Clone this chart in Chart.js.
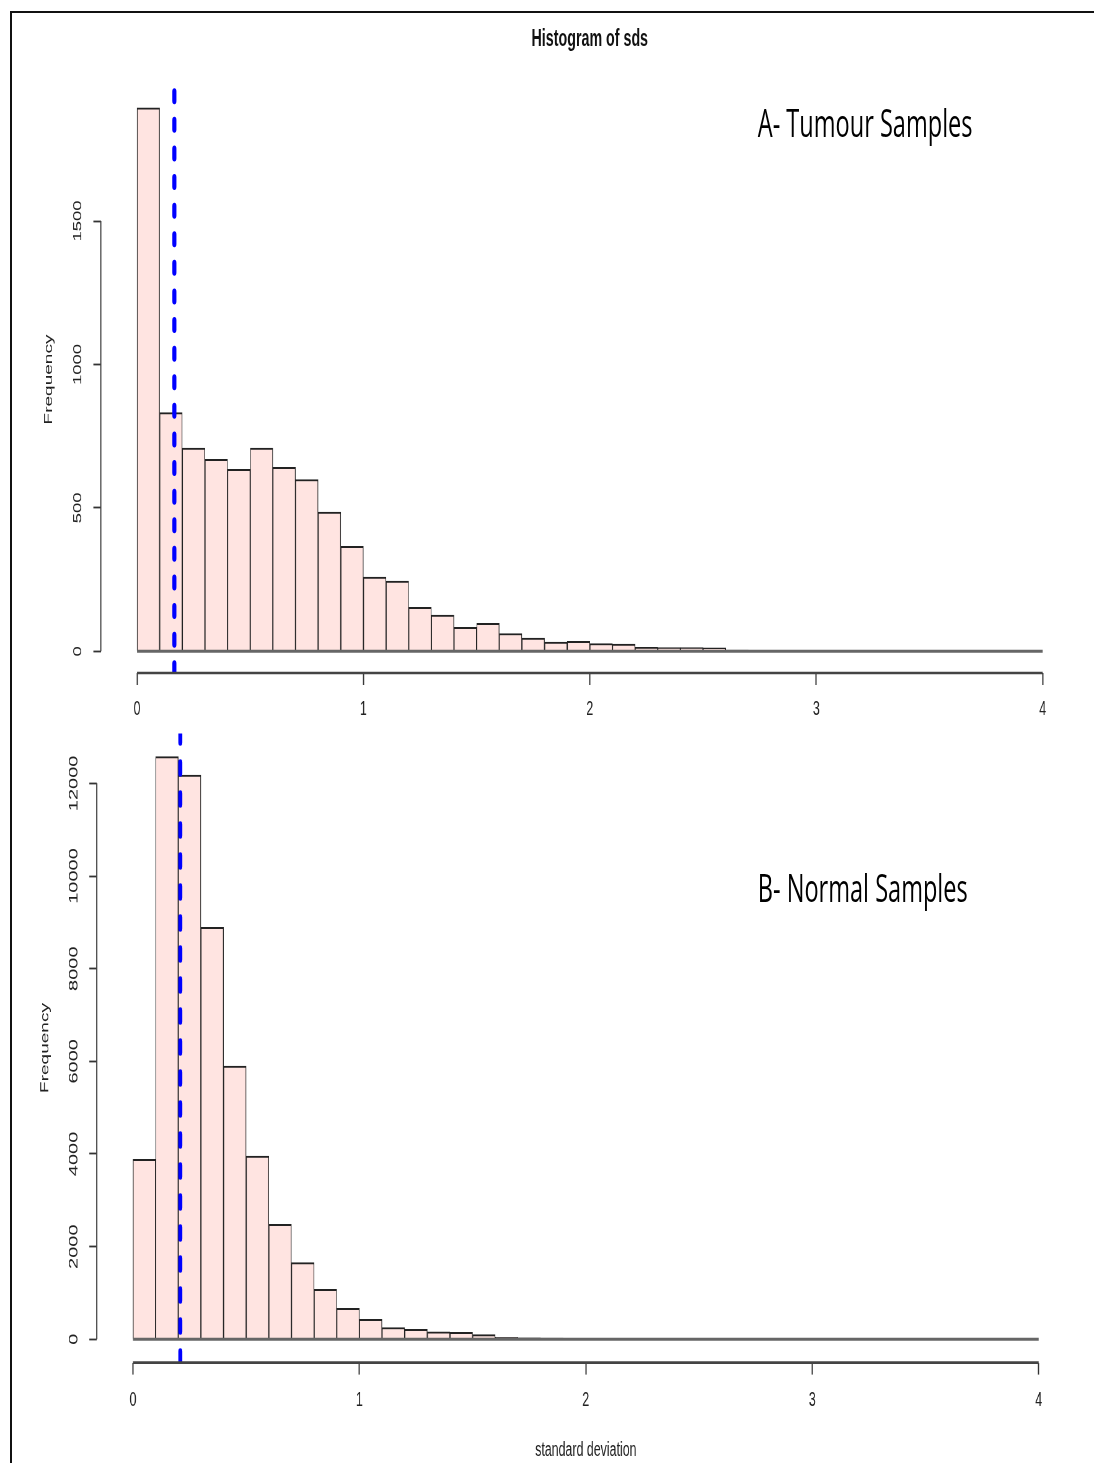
<!DOCTYPE html>
<html>
<head>
<meta charset="utf-8">
<script src="https://cdn.jsdelivr.net/npm/chart.js@4.4.1/dist/chart.umd.min.js"></script>
<style>
html,body{margin:0;padding:0;background:#fff;overflow:hidden;width:1094px;height:1463px;}
#frame{position:absolute;left:10px;top:11px;width:1090px;height:1460px;border-left:2px solid #111;border-top:2px solid #111;}
#wrap{position:absolute;left:0;top:0;width:1765px;height:1463px;transform:scaleX(0.6198);transform-origin:0 0;}
.box{position:absolute;left:0;width:1765px;}
#topBox{top:0;height:720px;}
#botBox{top:720px;height:743px;}
.note{position:absolute;font-family:'Open Sans',sans-serif;font-size:38px;line-height:38px;color:#000;white-space:nowrap;}
#title{position:absolute;left:451.6px;width:1000px;text-align:center;top:27px;font:bold 23px/23px 'Liberation Sans',Arial,sans-serif;color:#111;}
</style>
</head>
<body>
<div id="wrap">
  <div id="title">Histogram of sds</div>
  <div class="box" id="topBox"><canvas id="cTop"></canvas></div>
  <div class="box" id="botBox"><canvas id="cBot"></canvas></div>
  <div class="note" style="left:1222.6px;top:103px">A- Tumour Samples</div>
  <div class="note" style="left:1222.6px;top:868px">B- Normal Samples</div>
</div>
<div id="frame"></div>
<script>
// ---- data ----
const binWidth = 0.1;
const binStarts = [0.0,0.1,0.2,0.3,0.4,0.5,0.6,0.7,0.8,0.9,1.0,1.1,1.2,1.3,1.4,1.5,1.6,1.7,1.8,1.9,
                   2.0,2.1,2.2,2.3,2.4,2.5,2.6,2.7,2.8,2.9,3.0,3.1,3.2,3.3,3.4,3.5,3.6,3.7,3.8,3.9];
const tumourCounts = [1895,832,708,669,634,708,641,599,485,366,259,245,153,126,83,97,62,46,32,35,
                      27,25,14,13,13,12,4,3,3,0,0,0,0,0,0,0,0,0,0,0];
const normalCounts = [3885,12575,12180,8893,5899,3957,2482,1654,1079,669,432,255,215,160,150,100,40,30,25,0,
                      0,0,0,0,0,0,0,0,0,0,0,0,0,0,0,0,0,0,0,0];
const tumourCutoff = 0.165;
const normalCutoff = 0.209;
const xTicks = [0,1,2,3,4];
const tumourYTicks = [0,500,1000,1500];
const normalYTicks = [0,2000,4000,6000,8000,10000,12000];
const yLabel = 'Frequency';
const xLabel = 'standard deviation';

Chart.defaults.font.family = "'Liberation Sans', Arial, sans-serif";
Chart.defaults.color = '#222';

const rAxisLines = {
  id: 'rAxisLines',
  afterDatasetsDraw(chart) {
    const {ctx, chartArea, scales: {x, y}} = chart;
    ctx.save();
    ctx.strokeStyle = '#444';
    ctx.lineCap = 'butt';
    ctx.lineWidth = 2.6;
    ctx.beginPath();
    ctx.moveTo(x.getPixelForValue(x.ticks[0].value), chartArea.bottom);
    ctx.lineTo(x.getPixelForValue(x.ticks[x.ticks.length - 1].value), chartArea.bottom);
    ctx.stroke();
    ctx.lineWidth = 2.0;
    ctx.beginPath();
    ctx.moveTo(chartArea.left, y.getPixelForValue(y.ticks[0].value));
    ctx.lineTo(chartArea.left, y.getPixelForValue(y.ticks[y.ticks.length - 1].value));
    ctx.stroke();
    ctx.restore();
  }
};

function makeChart(canvas, counts, cutoff, yTicks, L) {
  const yTop = Math.max(...counts);
  const yMin = -0.04 * yTop, yMax = 1.04 * yTop;
  const xr = xTicks[xTicks.length - 1] - xTicks[0];
  const xMin = xTicks[0] - 0.04 * xr, xMax = xTicks[xTicks.length - 1] + 0.04 * xr;
  const last = binStarts.length - 1;
  return new Chart(canvas, {
    type: 'bar',
    data: {
      datasets: [
        {
          type: 'line',
          data: [{x: cutoff, y: yMin}, {x: cutoff, y: yMax}],
          borderColor: '#0000ff',
          borderWidth: 6.5,
          borderDash: L.dash,
          borderCapStyle: 'round',
          pointRadius: 0,
          fill: false,
          order: 0
        },
        {
          type: 'line',
          data: [{x: binStarts[0], y: 0}, {x: binStarts[last] + binWidth, y: 0}],
          borderColor: '#666',
          borderWidth: 3,
          pointRadius: 0,
          fill: false,
          order: 1
        },
        {
          type: 'bar',
          data: binStarts.map((b, i) => ({x: b + binWidth / 2, y: counts[i]})),
          backgroundColor: '#FFE4E1',
          borderColor: '#222',
          borderWidth: {top: 2.0, left: 1.3, right: 1.3, bottom: 0},
          borderSkipped: false,
          barPercentage: 1,
          categoryPercentage: 1,
          order: 2
        }
      ]
    },
    options: {
      responsive: true,
      maintainAspectRatio: false,
      animation: false,
      events: [],
      layout: {padding: {top: L.padTop, right: L.padRight, left: 0, bottom: 0}},
      plugins: {legend: {display: false}, tooltip: {enabled: false}, title: {display: false}},
      scales: {
        x: {
          type: 'linear',
          offset: false,
          min: xMin, max: xMax,
          afterBuildTicks: s => { s.ticks = xTicks.map(v => ({value: v})); },
          afterFit: s => { s.height = L.xHeight; },
          border: {display: false},
          grid: {display: true, offset: false, drawOnChartArea: false, drawTicks: true, tickLength: 12, tickColor: '#333', tickWidth: 2},
          ticks: {font: {size: 20}, color: '#222', padding: L.xPad, autoSkip: false, maxRotation: 0, minRotation: 0, callback: v => String(v)},
          title: {display: L.showXTitle, text: xLabel, font: {size: 20}, color: '#222', padding: {top: 0, bottom: 1}}
        },
        y: {
          type: 'linear',
          offset: false,
          min: yMin, max: yMax,
          afterBuildTicks: s => { s.ticks = yTicks.map(v => ({value: v})); },
          afterFit: s => { s.width = L.yWidth; },
          border: {display: false},
          grid: {display: true, offset: false, drawOnChartArea: false, drawTicks: true, tickLength: 12, tickColor: '#333', tickWidth: 1.8},
          ticks: {font: {size: L.yFont}, color: '#222', padding: L.yPad, autoSkip: false, minRotation: 90, maxRotation: 90, crossAlign: 'center', callback: v => String(v)},
          title: {display: true, text: yLabel, font: {size: 19}, color: '#222', padding: {top: L.yTitlePad, bottom: 0}}
        }
      }
    },
    plugins: [rAxisLines]
  });
}

makeChart(document.getElementById('cTop'), tumourCounts, tumourCutoff, tumourYTicks, {
  padTop: 86, padRight: 24.3, yWidth: 162.6, xHeight: 47, xPad: 12, yFont: 18.5, yPad: 4.2,
  yTitlePad: 67.6, showXTitle: false, dash: [9.5, 19.1]
});
makeChart(document.getElementById('cBot'), normalCounts, normalCutoff, normalYTicks, {
  padTop: 13.4, padRight: 30.8, yWidth: 156.1, xHeight: 100.4, xPad: 13.4, yFont: 20, yPad: -3.1,
  yTitlePad: 61.2, showXTitle: true, dash: [11, 20]
});
</script>
</body>
</html>
